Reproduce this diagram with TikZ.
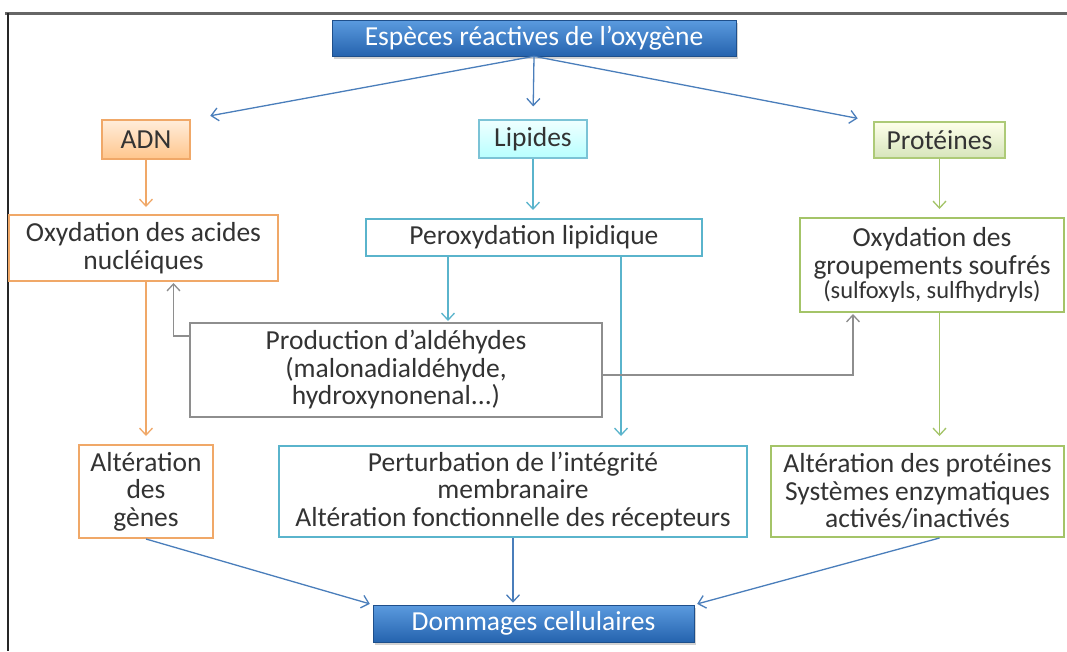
\documentclass[tikz,border=0pt]{standalone}
\usepackage{fontspec}
\setmainfont{Carlito}
\usetikzlibrary{arrows.meta,shadows}

\definecolor{txt}{HTML}{333333}
\definecolor{rosdark}{HTML}{2563AE}
\definecolor{roslight}{HTML}{5B9BDF}
\definecolor{arrblue}{HTML}{4A7EBB}
\definecolor{orangeline}{HTML}{F0A868}
\definecolor{tealline}{HTML}{5AB4CC}
\definecolor{greenline}{HTML}{A4C468}
\definecolor{grayline}{HTML}{8E8E8E}

\begin{document}
\begin{tikzpicture}[x=1pt,y=-1pt,
every node/.style={
draw,
align=center,
inner sep=0pt,
text=txt,
line width=2pt,
font=\fontsize{27.5}{27.5}\selectfont
},
bluebox/.style={draw=rosdark!80!black, line width=0.6pt, top color=roslight, bottom color=rosdark, text=white,
  drop shadow={shadow xshift=2pt, shadow yshift=-3pt, opacity=.35}},
adnbox/.style={draw=orangeline, line width=1.2pt, top color=orange!14, bottom color=orange!45},
lipbox/.style={draw=tealline!80, line width=1.2pt, top color=cyan!6, bottom color=cyan!28},
protbox/.style={draw=greenline!90, line width=1.2pt, top color=green!4!yellow!8, bottom color=greenline!45},
arr/.style={line width=1.3pt, -{Straight Barb[length=7pt,width=13pt]}},
bluearr/.style={arr, arrblue},
orangearr/.style={arr, orangeline},
tealarr/.style={arr, tealline},
greenarr/.style={arr, greenline},
grayarr/.style={arr, grayline}
]

\useasboundingbox (0,0) rectangle (1067,651);
\fill[white] (0,0) rectangle (1067,651);

% cadre
\draw[line width=3pt, black!60] (5,13) -- (1067,13);
\draw[line width=2pt, black!85] (8,13) -- (8,651);

\node[bluebox, minimum width=404, minimum height=36] (ros) at (534,38) {Espèces réactives de l’oxygène};

\node[adnbox, minimum width=88, minimum height=39] (adn) at (146,139.5) {ADN};
\node[lipbox, minimum width=108, minimum height=38] (lip) at (533,139) {Lipides};
\node[protbox, minimum width=131, minimum height=36] (prot) at (939.5,140) {Protéines};

\node[draw=orangeline, minimum width=269, minimum height=66] (oxa) at (143.5,248) {Oxydation des acides\\nucléiques};
\node[draw=tealline, minimum width=336, minimum height=37] (perox) at (534,237.5) {Peroxydation lipidique};
\node[draw=greenline, minimum width=264, minimum height=94] (oxg) at (932,265)
  {Oxydation des\\groupements soufrés\\[-3pt]{\fontsize{24.5}{24.5}\selectfont (sulfoxyls, sulfhydryls)}};

\node[draw=grayline, minimum width=412, minimum height=94] (prod) at (396,370)
  {Production d’aldéhydes\\(malonadialdéhyde,\\hydroxynonenal...)};

\node[draw=orangeline, minimum width=134, minimum height=93] (alg) at (146,491.5) {Altération\\des\\gènes};
\node[draw=tealline, minimum width=468, minimum height=91] (pert) at (513,491.5)
  {Perturbation de l’intégrité\\membranaire\\Altération fonctionnelle des récepteurs};
\node[draw=greenline, minimum width=293, minimum height=91] (alp) at (917.5,491.5)
  {Altération des protéines\\Systèmes enzymatiques\\activés/inactivés};

\node[bluebox, minimum width=321, minimum height=37] (dom) at (533.5,623.5) {Dommages cellulaires};

\draw[bluearr, shorten >=20pt] (ros.south) -- (adn.north east);
\draw[bluearr, shorten >=13pt] (ros.south) -- (lip.north);
\draw[bluearr, shorten >=16pt] (ros.south) -- (prot.north west);

\draw[orangearr, shorten >=7pt] (adn.south) -- (oxa.north -| adn.south);
\draw[tealarr, shorten >=8pt] (lip.south) -- (perox.north -| lip.south);
\draw[greenarr, shorten >=8pt] (prot.south) -- (oxg.north -| prot.south);

\draw[tealarr, shorten >=1pt] ([xshift=-86pt]perox.south) -- ([xshift=-86pt]perox.south |- prod.north);
\draw[tealarr, shorten >=9pt] ([xshift=87pt]perox.south) -- ([xshift=87pt]perox.south |- pert.north);

\draw[grayarr, shorten >=1pt] ([yshift=-14pt]prod.north west) -| ([xshift=30pt]oxa.south);
\draw[grayarr, shorten >=1pt] ([yshift=-5pt]prod.east) -| ([xshift=-79pt]oxg.south);

\draw[orangearr, shorten >=8pt] (oxa.south -| alg.north) -- (alg.north);
\draw[greenarr, shorten >=9pt] (oxg.south -| prot.south) -- (alp.north -| prot.south);

\draw[bluearr, shorten >=3pt] (alg.south) -- (dom.north west);
\draw[bluearr, shorten >=2pt] (pert.south) -- (pert.south |- dom.north);
\draw[bluearr, shorten >=3pt] (alp.south -| prot.south) -- (dom.north east);

\end{tikzpicture}
\end{document}
